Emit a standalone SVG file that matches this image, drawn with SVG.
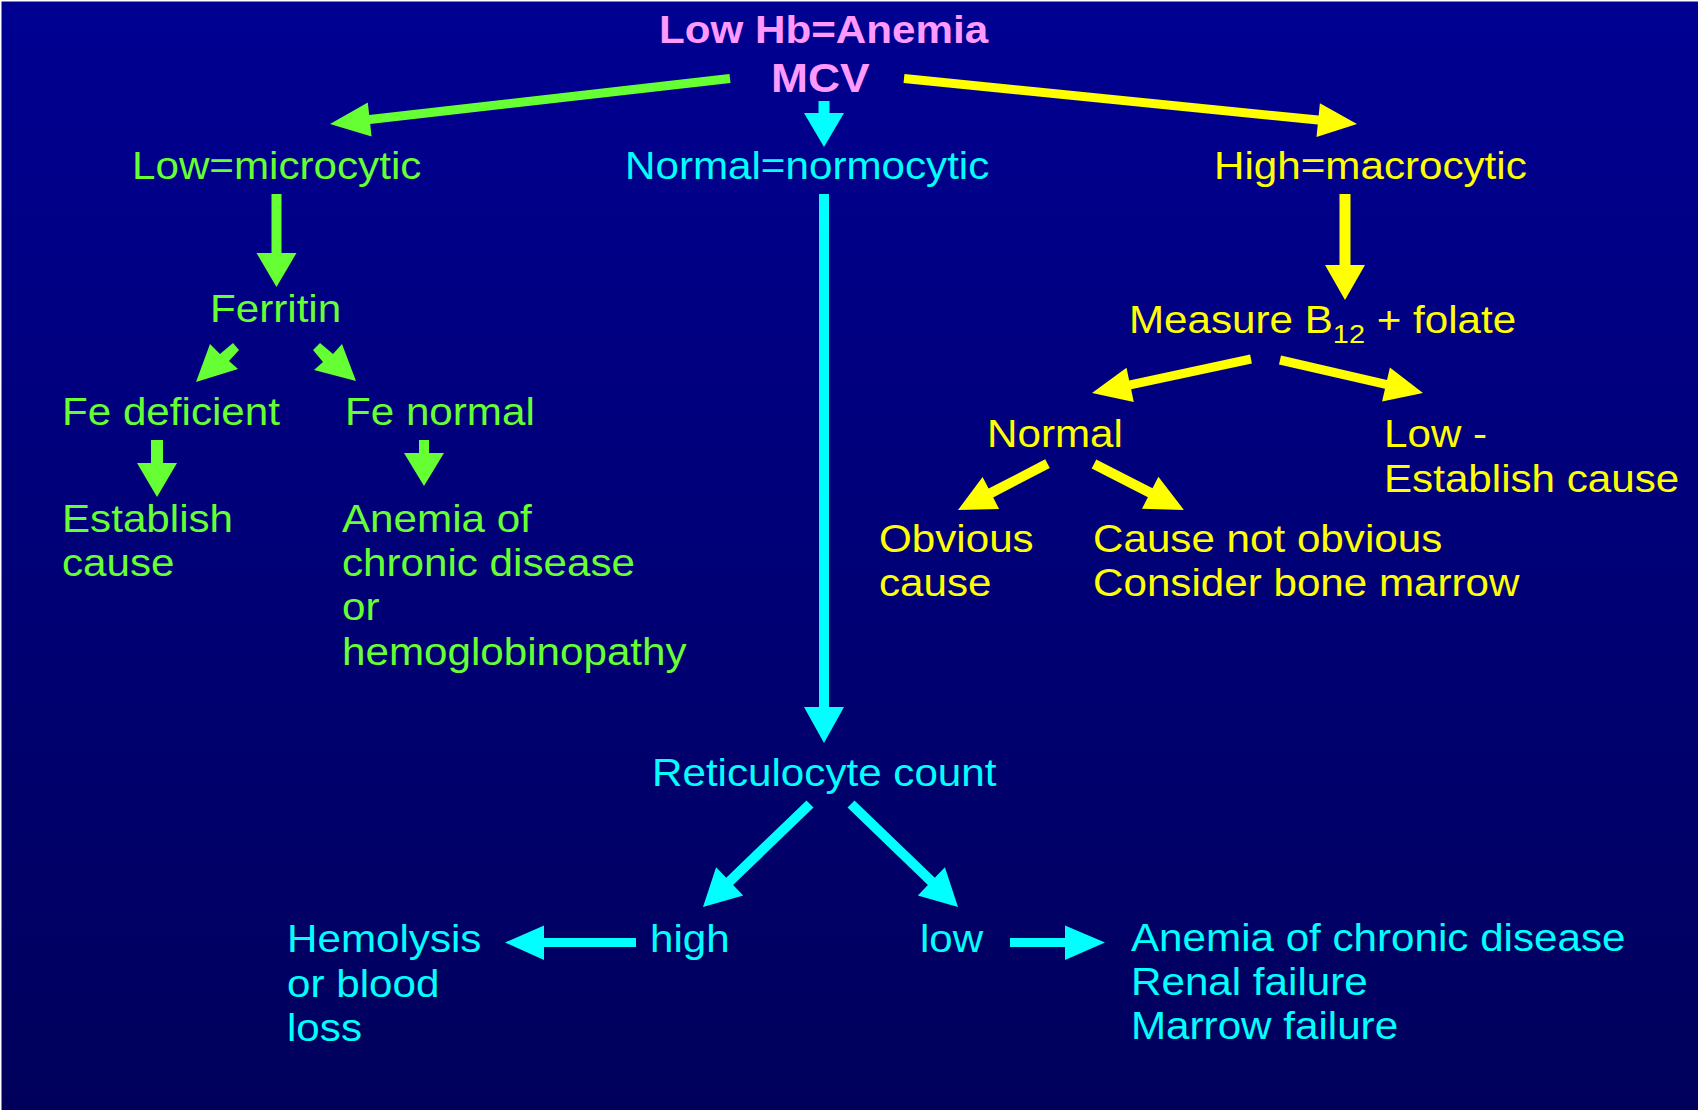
<svg xmlns="http://www.w3.org/2000/svg" width="1698" height="1110" viewBox="0 0 1698 1110">
<defs>
<linearGradient id="bg" x1="0" y1="0" x2="0" y2="1">
<stop offset="0" stop-color="#000092"/>
<stop offset="1" stop-color="#00005c"/>
</linearGradient>
</defs>
<style>
text{font-family:"Liberation Sans",Arial,Helvetica,sans-serif;font-size:38px}
.g{fill:#66ff33}
.c{fill:#00ffff}
.y{fill:#ffff00}
.p{fill:#ff99ff;font-weight:bold}
</style>
<rect width="1698" height="1110" fill="url(#bg)"/>
<rect x="0" y="0" width="1698" height="1.5" fill="#ffffff"/>
<rect x="0" y="0" width="1.5" height="1110" fill="#ffffff"/>

<g id="connectors">
<polygon class="g" points="729.5,74 369.2,115 367.8,102.6 330,124 371.6,136.4 370.2,124 730.5,83"/>
<polygon class="c" points="818.5,101 829.5,101 829.5,113 844,113 824,147 804,113 818.5,113"/>
<polygon class="y" points="904.45,74 1318.65,115.6 1319.9,103.2 1357,124 1316.5,137 1317.75,124.6 903.55,83"/>
<polygon class="g" points="271.5,194 281.5,194 281.5,253 296.5,253 276.5,287 256.5,253 271.5,253"/>
<polygon class="c" points="819,194 829,194 829,707 844,707 824,743 804,707 819,707"/>
<polygon class="y" points="1339.5,194 1350.5,194 1350.5,265 1365,265 1345,300 1325,265 1339.5,265"/>
<polygon class="g" points="196,382 210,344 220,354 233,343 239,350 229,361 238,369"/>
<polygon class="g" points="356,381 342,344 333,354 320,343 313,350 323,362 314,370"/>
<polygon class="g" points="151,440 163,440 163,463 177,463 157,497 137,463 151,463"/>
<polygon class="g" points="419,440 429,440 429,453 444,453 424,486 404,453 419,453"/>
<polygon class="y" points="1250.1,354.6 1129.2,380.4 1126.5,367.7 1092,393 1133.8,401.9 1131.1,389.2 1251.9,363.4"/>
<polygon class="y" points="1281,355.6 1387,380.1 1389.9,367.4 1423,393 1382.1,401.5 1385,388.8 1279,364.4"/>
<polygon class="y" points="1045.2,459.3 988.6,488.6 982.6,477 958,510 999.1,509 993.2,497.4 1049.8,468.1"/>
<polygon class="y" points="1096.3,459.6 1152.5,488.2 1158.4,476.7 1184,510 1142,508.7 1147.9,497.2 1091.7,468.5"/>
<polygon class="c" points="806.5,800.4 726.2,877.7 716.1,867.3 703,907 743.2,895.4 733.1,884.9 813.5,807.6"/>
<polygon class="c" points="854.5,800.4 934.8,877.7 944.9,867.3 958,907 917.8,895.4 927.9,884.9 847.5,807.6"/>
<polygon class="c" points="636,938 544,938 544,925.5 505,942.5 544,960 544,947 636,947"/>
<polygon class="c" points="1010,938 1065,938 1065,925.5 1105,942.5 1065,960 1065,947 1010,947"/>
</g>

<g id="node-root">
<text class="p" transform="translate(659,43) scale(1.11,1)">Low Hb=Anemia</text>
<text class="p" style="font-size:40px" transform="translate(771,92) scale(1.11,1)">MCV</text>
</g>

<g id="node-microcytic"><text class="g" transform="translate(132,179) scale(1.11,1)">Low=microcytic</text></g>
<g id="node-normocytic"><text class="c" transform="translate(625,179) scale(1.11,1)">Normal=normocytic</text></g>
<g id="node-macrocytic"><text class="y" transform="translate(1214,179) scale(1.11,1)">High=macrocytic</text></g>

<g id="node-ferritin"><text class="g" transform="translate(210,322) scale(1.11,1)">Ferritin</text></g>
<g id="node-fe-deficient"><text class="g" transform="translate(62,425) scale(1.11,1)">Fe deficient</text></g>
<g id="node-fe-normal"><text class="g" transform="translate(345,425) scale(1.11,1)">Fe normal</text></g>
<g id="node-establish-cause"><text class="g" transform="translate(62,532) scale(1.11,1)"><tspan x="0" y="0">Establish</tspan><tspan x="0" y="44">cause</tspan></text></g>
<g id="node-anemia-chronic"><text class="g" transform="translate(342,532) scale(1.11,1)"><tspan x="0" y="0">Anemia of</tspan><tspan x="0" y="44">chronic disease</tspan><tspan x="0" y="88">or</tspan><tspan x="0" y="133">hemoglobinopathy</tspan></text></g>

<g id="node-measure"><text class="y" transform="translate(1129,333) scale(1.11,1)">Measure B<tspan style="font-size:26px" dy="10">12</tspan><tspan dy="-10"> + folate</tspan></text></g>
<g id="node-normal"><text class="y" transform="translate(987,447) scale(1.11,1)">Normal</text></g>
<g id="node-low"><text class="y" transform="translate(1384,447) scale(1.11,1)"><tspan x="0" y="0">Low -</tspan><tspan x="0" y="45">Establish cause</tspan></text></g>
<g id="node-obvious"><text class="y" transform="translate(879,552) scale(1.11,1)"><tspan x="0" y="0">Obvious</tspan><tspan x="0" y="44">cause</tspan></text></g>
<g id="node-not-obvious"><text class="y" transform="translate(1093,552) scale(1.11,1)"><tspan x="0" y="0">Cause not obvious</tspan><tspan x="0" y="44">Consider bone marrow</tspan></text></g>

<g id="node-reticulocyte"><text class="c" transform="translate(652,786) scale(1.11,1)">Reticulocyte count</text></g>
<g id="node-high"><text class="c" transform="translate(650,952) scale(1.11,1)">high</text></g>
<g id="node-low-retic"><text class="c" transform="translate(920,952) scale(1.11,1)">low</text></g>
<g id="node-hemolysis"><text class="c" transform="translate(287,952) scale(1.11,1)"><tspan x="0" y="0">Hemolysis</tspan><tspan x="0" y="45">or blood</tspan><tspan x="0" y="89">loss</tspan></text></g>
<g id="node-chronic-list"><text class="c" transform="translate(1131,951) scale(1.11,1)"><tspan x="0" y="0">Anemia of chronic disease</tspan><tspan x="0" y="44">Renal failure</tspan><tspan x="0" y="88">Marrow failure</tspan></text></g>
</svg>
